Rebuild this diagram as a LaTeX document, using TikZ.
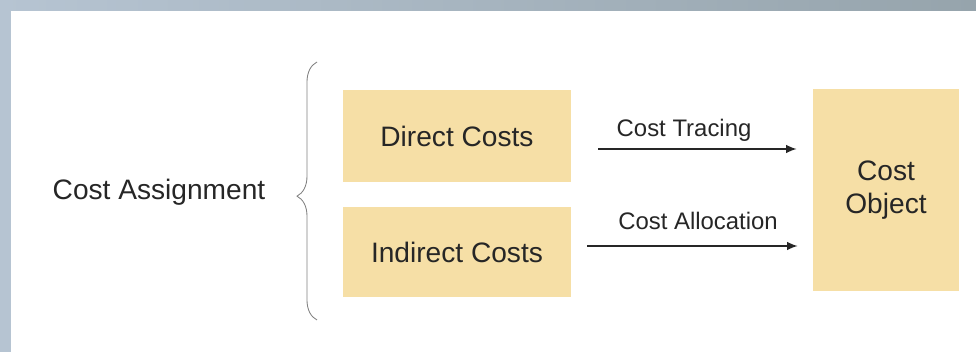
\documentclass[tikz,border=0pt]{standalone}
\usepackage{fontspec}
\setmainfont{Liberation Sans}
\usetikzlibrary{arrows.meta,decorations.pathreplacing}
\definecolor{boxfill}{RGB}{246,223,166}
\definecolor{framel}{RGB}{182,196,210}
\definecolor{framem}{RGB}{140,154,160}
\definecolor{framer}{RGB}{150,164,172}
\definecolor{inkgrey}{RGB}{38,38,38}

\begin{document}
\begin{tikzpicture}[x=0.025cm,y=-0.025cm]
  \tikzstyle{costbox}=[rectangle,fill=boxfill,text=inkgrey,font=\fontsize{20}{24}\selectfont,align=center,inner sep=0pt]
  \tikzstyle{flow}=[-{Latex[length=7.5pt,width=6pt]},line width=1pt,inkgrey]
  \tikzstyle{flowlabel}=[font=\fontsize{17}{20}\selectfont,text=inkgrey,anchor=base,inner sep=0pt]
  \useasboundingbox (0,0) rectangle (976,352);
  \fill[framel] (0,0) rectangle (11,352);
  \shade[left color=framel,middle color=framem,right color=framer] (0,0) rectangle (976,11);
  \node[costbox,minimum width=5.7cm,minimum height=2.3cm] (direct) at (457,136) {Direct Costs};
  \node[costbox,minimum width=5.7cm,minimum height=2.25cm] (indirect) at (457,252) {Indirect Costs};
  \node[costbox,minimum width=3.65cm,minimum height=5.05cm] (object) at (886,190) {Cost\\Object};
  \node[font=\fontsize{20}{24}\selectfont,text=inkgrey] (assign) at (159,192) {Cost Assignment};
  \coordinate (bracebot) at (317,320);
  \coordinate (bracetop) at (317,62);
  \draw[gray,line width=0.6pt,decorate,decoration={brace,amplitude=0.5cm,aspect=0.48}] (bracebot) -- (bracetop);
  \draw[flow,shorten <=0.675cm,shorten >=0.4cm] ([yshift=-0.325cm]direct.east) -- ([yshift=-0.325cm]direct.east -| object.west)
    node[flowlabel,pos=0.467,yshift=0.3cm] {Cost Tracing};
  \draw[flow,shorten <=0.4cm,shorten >=0.375cm] ([yshift=0.15cm]indirect.east) -- ([yshift=0.15cm]indirect.east -| object.west)
    node[flowlabel,pos=0.525,yshift=0.42cm] {Cost Allocation};
\end{tikzpicture}
\end{document}
